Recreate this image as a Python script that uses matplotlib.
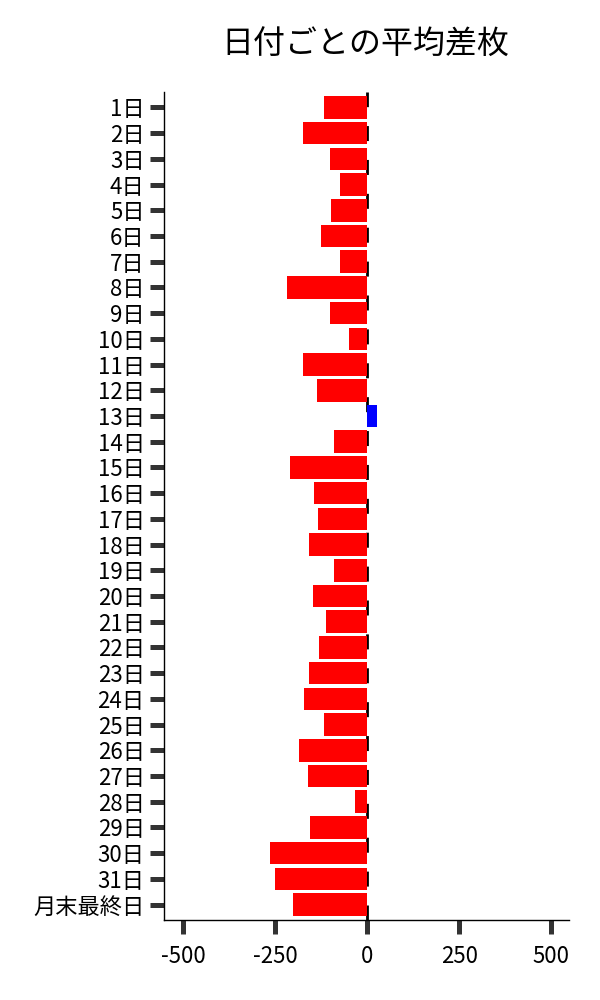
import matplotlib
matplotlib.use('Agg')
import matplotlib.pyplot as plt

plt.rcParams['font.family'] = ['Noto Sans CJK JP', 'DejaVu Sans']
plt.rcParams['axes.unicode_minus'] = False

# 日付ラベルと平均差枚
days = [f'{i}日' for i in range(1, 32)] + ['月末最終日']
avg_diff = [-117, -174, -100, -73, -98, -125, -73, -217, -101, -49,
            -174, -136, 26, -90, -209, -144, -133, -158, -90, -147,
            -111, -130, -158, -171, -117, -185, -160, -33, -155, -264,
            -250, -201]
x_ticks = [-500, -250, 0, 250, 500]

fig = plt.figure(figsize=(6, 10), dpi=100)
ax = fig.add_axes([0.2735, 0.08, 0.675, 0.828])

colors = ['blue' if v > 0 else 'red' for v in avg_diff]
ypos = list(range(len(days)))
ax.barh(ypos, avg_diff, height=0.88, color=colors, zorder=2)

# 0の位置に破線
ax.axvline(0, color='black', linewidth=2, linestyle=(0, (5.4, 6.8)), zorder=1)

ax.set_ylim(len(days) - 1 + 0.6, -0.6)
ax.set_xlim(-552, 549)
ax.set_yticks(ypos)
ax.set_yticklabels(days, fontsize=16)
ax.set_xticks(x_ticks)
ax.set_xticklabels([str(t) for t in x_ticks], fontsize=16)

ax.tick_params(axis='both', length=10, width=3.6, color='#333333')
ax.tick_params(axis='y', pad=4)
ax.tick_params(axis='x', pad=8)

for s in ['top', 'right']:
    ax.spines[s].set_visible(False)
for s in ['left', 'bottom']:
    ax.spines[s].set_linewidth(1.0)
    ax.spines[s].set_color('black')

fig.text(0.609, 0.955, '日付ごとの平均差枚', fontsize=23, ha='center', va='center')

fig.savefig('out.png', dpi=100)
